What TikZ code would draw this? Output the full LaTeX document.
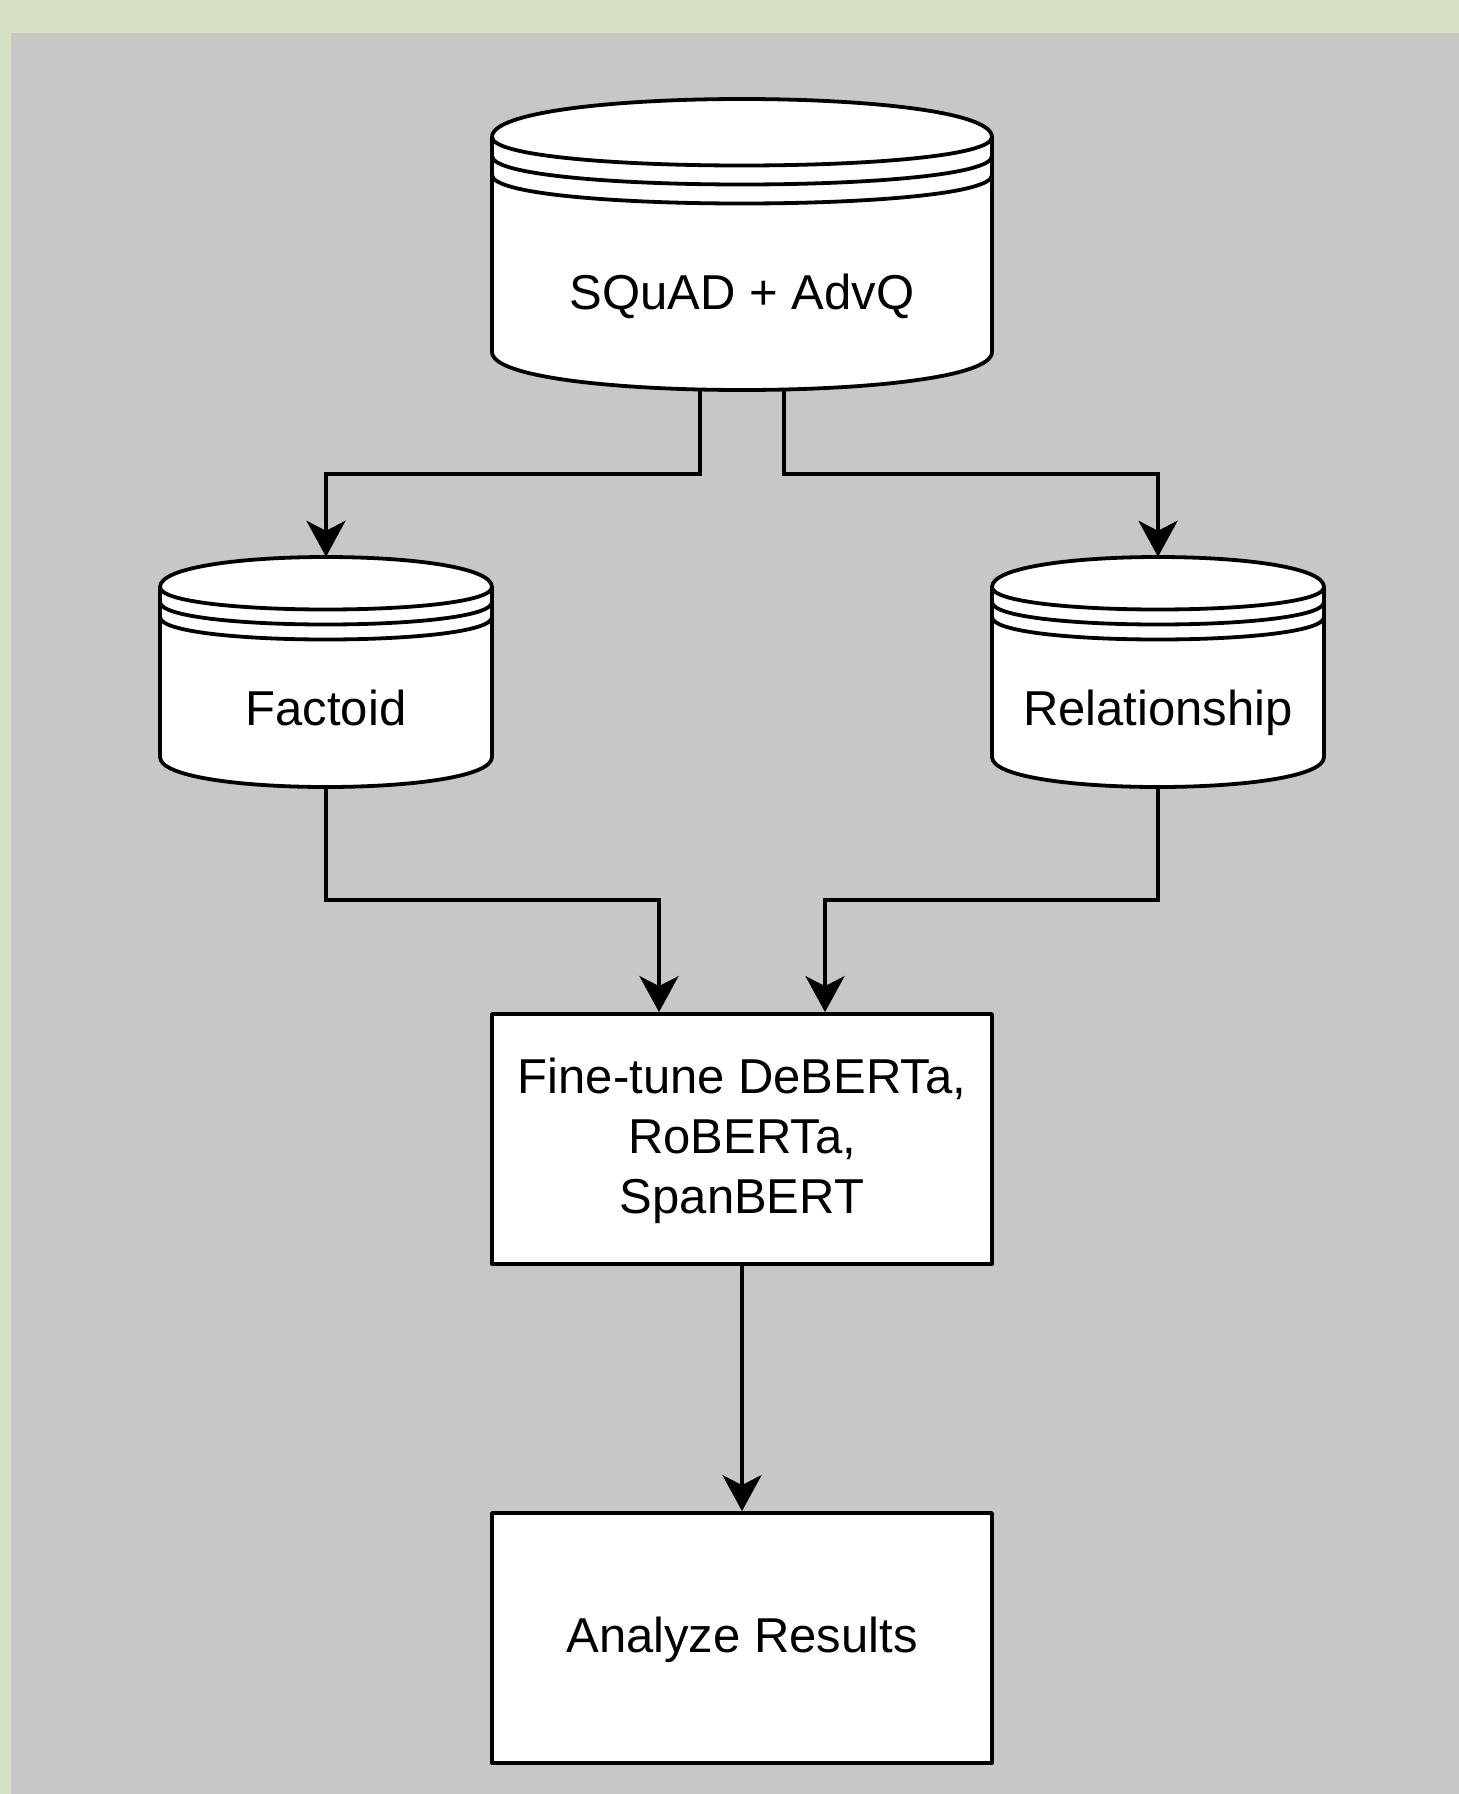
\documentclass[tikz,border=0pt]{standalone}
\usepackage{fontspec}
\setmainfont{Liberation Sans}
\usetikzlibrary{arrows.meta}
\definecolor{bggreen}{HTML}{D6E0C4}
\definecolor{bggray}{HTML}{C7C7C7}
\tikzset{
  shapeline/.style={draw=black, line width=3.8pt, line join=round},
  lbl/.style={font=\fontsize{49pt}{60pt}\selectfont, text=black, inner sep=0pt, align=center},
  boxnode/.style={shapeline, fill=white, inner sep=0pt, minimum width=500pt, font=\fontsize{49pt}{60pt}\selectfont, align=center},
  conn/.style={draw=black, line width=3.8pt, -{Stealth[length=36pt,width=39pt,inset=10pt]}},
}
% name, left x, top y, width, height, dy, text, text baseline y
\newcommand\dstore[8]{%
  \pgfmathsetmacro\dsL{#2}%
  \pgfmathsetmacro\dsT{#3}%
  \pgfmathsetmacro\dsR{#2+#4}%
  \pgfmathsetmacro\dsB{#3+#5}%
  \pgfmathsetmacro\dsD{#6}%
  \pgfmathsetmacro\dsCx{#2+#4/2}%
  \pgfmathsetmacro\dsCy{#3+#5/2}%
  \node[inner sep=0pt, minimum width=#4pt, minimum height=#5pt] (#1) at (\dsCx,\dsCy) {};
  \draw[shapeline, fill=white] (\dsL,\dsT+\dsD) .. controls (\dsL,\dsT-\dsD/3) and (\dsR,\dsT-\dsD/3) .. (\dsR,\dsT+\dsD)
     -- (\dsR,\dsB-\dsD) .. controls (\dsR,\dsB+\dsD/3) and (\dsL,\dsB+\dsD/3) .. (\dsL,\dsB-\dsD) -- cycle;
  \foreach \dsK in {0,0.5,1} {
    \draw[shapeline] (\dsL,\dsT+\dsD+\dsK*\dsD) .. controls (\dsL,\dsT+2*\dsD+\dsK*\dsD) and (\dsR,\dsT+2*\dsD+\dsK*\dsD) .. (\dsR,\dsT+\dsD+\dsK*\dsD);
  }
  \node[lbl, anchor=base] (#1-text) at (\dsCx,#8) {#7};
}
\begin{document}
\begin{tikzpicture}[x=1pt,y=-1pt]
  \useasboundingbox (0,0) rectangle (1459,1794);
  \fill[bggreen] (0,0) rectangle (1459,1794);
  \fill[bggray] (11,33) rectangle (1459,1794);

  \dstore{sq}{492}{99}{500}{291}{38}{SQuAD + AdvQ}{309}
  \dstore{fact}{160}{557}{332}{230}{30}{Factoid}{725}
  \dstore{rel}{992}{557}{332}{230}{30}{Relationship}{725}

  \node[boxnode, minimum height=250pt] (ft) at (742,1139) {};
  \node[lbl] (ft-text) at (742,1141) {Fine-tune DeBERTa,\\RoBERTa,\\SpanBERT};
  \node[boxnode, minimum height=250pt] (an) at (742,1638) {};
  \node[lbl] (an-text) at (742,1640) {Analyze Results};

  \draw[conn] ([xshift=-42pt]sq.south) -- ++(0,84) -| (fact.north);
  \draw[conn] ([xshift=42pt]sq.south) -- ++(0,84) -| (rel.north);
  \draw[conn] (fact.south) -- ++(0,113) -| ([xshift=-83pt]ft.north);
  \draw[conn] (rel.south) -- ++(0,113) -| ([xshift=83pt]ft.north);
  \draw[conn] (ft.south) -- (an.north);
\end{tikzpicture}
\end{document}
